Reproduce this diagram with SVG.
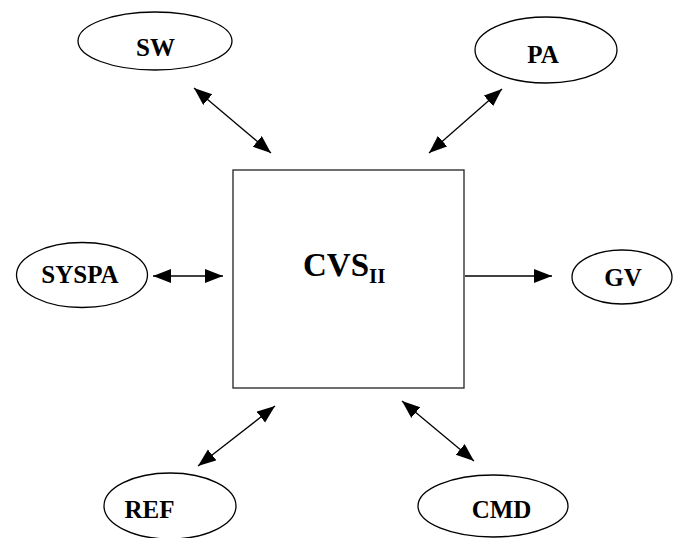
<svg xmlns="http://www.w3.org/2000/svg" width="680" height="538" viewBox="0 0 680 538">
<style>
.n{fill:#fff;stroke:#000;stroke-width:1.3}
.b{fill:#fff;stroke:#222;stroke-width:1.3}
.t{font-family:"Liberation Serif","Times New Roman",serif;font-weight:bold;font-size:25px;fill:#000;text-anchor:middle}
.big{font-family:"Liberation Serif","Times New Roman",serif;font-weight:bold;font-size:33px;fill:#000}
.sub{font-size:21px}
.c{stroke:#000;stroke-width:1.3;fill:none}
</style>
<defs>
<marker id="ah" markerUnits="userSpaceOnUse" markerWidth="19" markerHeight="15" refX="18" refY="7" orient="auto-start-reverse" viewBox="0 0 19 15">
<path d="M0,0 L18,7 L0,14 z" fill="#000"/>
</marker>
</defs>
<g id="connectors">
<line class="c" x1="194" y1="88" x2="271" y2="153" marker-start="url(#ah)" marker-end="url(#ah)"/>
<line class="c" x1="502" y1="89" x2="429" y2="153" marker-start="url(#ah)" marker-end="url(#ah)"/>
<line class="c" x1="153" y1="276" x2="223" y2="276" marker-start="url(#ah)" marker-end="url(#ah)"/>
<line class="c" x1="465" y1="276" x2="552" y2="276" marker-end="url(#ah)"/>
<line class="c" x1="198" y1="466" x2="275" y2="406" marker-start="url(#ah)" marker-end="url(#ah)"/>
<line class="c" x1="402" y1="401" x2="474" y2="461" marker-start="url(#ah)" marker-end="url(#ah)"/>
</g>
<g id="CVS">
<rect class="b" x="233" y="170" width="231" height="218"/>
<text class="big" x="303" y="276">CVS<tspan class="sub" dy="7">II</tspan></text>
</g>
<g id="SW">
<ellipse class="n" cx="155" cy="41" rx="77" ry="29"/>
<text class="t" x="155.5" y="56">SW</text>
</g>
<g id="PA">
<ellipse class="n" cx="546" cy="50" rx="71" ry="33"/>
<text class="t" x="543" y="63">PA</text>
</g>
<g id="SYSPA">
<ellipse class="n" cx="82" cy="275" rx="65.5" ry="32.5"/>
<text class="t" x="80" y="283">SYSPA</text>
</g>
<g id="GV">
<ellipse class="n" cx="622" cy="277" rx="50" ry="27"/>
<text class="t" x="623" y="286">GV</text>
</g>
<g id="REF">
<ellipse class="n" cx="170" cy="506" rx="66" ry="33"/>
<text class="t" x="149.5" y="518">REF</text>
</g>
<g id="CMD">
<ellipse class="n" cx="493" cy="506" rx="75" ry="31"/>
<text class="t" x="501.5" y="518">CMD</text>
</g>
</svg>
